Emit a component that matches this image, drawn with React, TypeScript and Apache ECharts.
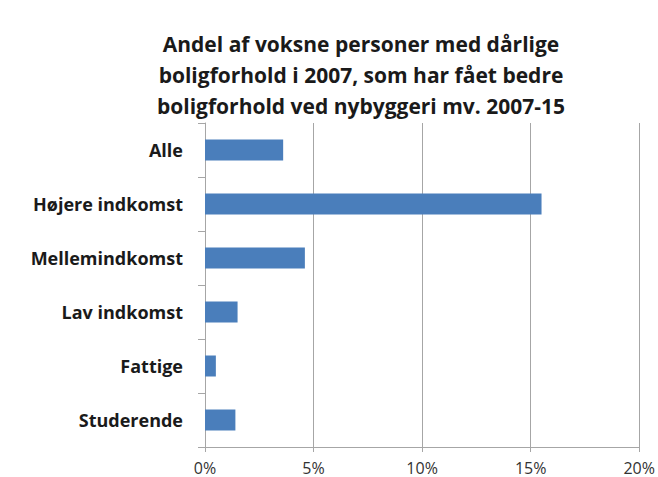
import React, { useEffect, useRef } from "react";
import * as echarts from "echarts";

const titleText = "Andel af voksne personer med dårlige\nboligforhold i 2007, som har fået bedre\nboligforhold ved nybyggeri mv. 2007-15";
const categories = ["Alle", "Højere indkomst", "Mellemindkomst", "Lav indkomst", "Fattige", "Studerende"];
const values = [3.6, 15.5, 4.6, 1.5, 0.5, 1.4];
const xMin = 0;
const xMax = 20;
const xInterval = 5;

export default function App() {
  const ref = useRef<HTMLDivElement>(null);
  useEffect(() => {
    document.body.style.margin = "0";
    const chart = echarts.init(ref.current!, null, { renderer: "svg" });
    chart.setOption({
      animation: false,
      backgroundColor: "#ffffff",
      title: {
        text: titleText,
        left: 356,
        top: 23,
        textAlign: "center",
        textStyle: {
          fontFamily: "Open Sans",
          fontWeight: "bold",
          fontSize: 21,
          lineHeight: 31,
          color: "#1a1a1a",
        },
      },
      grid: { left: 205, right: 17, top: 123, bottom: 30, containLabel: false },
      xAxis: {
        type: "value",
        min: xMin,
        max: xMax,
        interval: xInterval,
        axisLabel: {
          formatter: "{value}%",
          fontFamily: "Open Sans",
          fontSize: 16,
          lineHeight: 17,
          color: "#333333",
          margin: 12,
        },
        axisLine: { show: true, lineStyle: { color: "#a6a6a6", width: 1 } },
        axisTick: { show: true, length: 5, lineStyle: { color: "#a6a6a6" } },
        splitLine: { show: true, lineStyle: { color: "#a6a6a6", width: 1 } },
      },
      yAxis: {
        type: "category",
        data: categories,
        inverse: true,
        axisLabel: {
          fontFamily: "Open Sans",
          fontWeight: "bold",
          fontSize: 18,
          color: "#1a1a1a",
          margin: 22,
        },
        axisLine: { show: true, lineStyle: { color: "#a6a6a6", width: 1 } },
        axisTick: { show: true, length: 7, lineStyle: { color: "#a6a6a6" } },
      },
      series: [
        {
          type: "bar",
          data: values,
          barWidth: 21,
          itemStyle: { color: "#4a7ebb" },
        },
      ],
    });
    return () => chart.dispose();
  }, []);
  return <div ref={ref} style={{ width: 658, height: 477 }} />;
}
